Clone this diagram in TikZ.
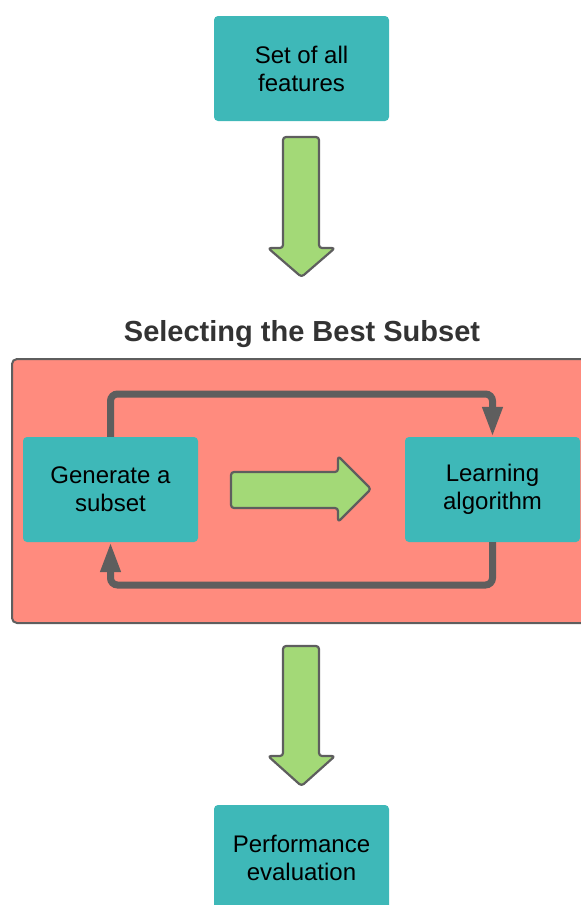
\documentclass[tikz,border=0pt]{standalone}
\usepackage{fontspec}
\setmainfont{Liberation Sans}
\usetikzlibrary{arrows.meta}
\definecolor{boxteal}{HTML}{3EB8B8}
\definecolor{panelred}{HTML}{FF8B7E}
\definecolor{arrowgreen}{HTML}{A3D977}
\definecolor{edgegray}{HTML}{5E5E5E}
\definecolor{titlegray}{HTML}{333333}
\tikzset{
  stagebox/.style={fill=boxteal, draw=none, rounded corners=4pt,
    minimum width=175pt, minimum height=105pt, inner sep=0pt,
    align=center, font=\fontsize{24}{28}\selectfont},
  blockarrow/.style={fill=arrowgreen, draw=edgegray, line width=2.2pt,
    rounded corners=3pt, line join=round},
  loopline/.style={draw=edgegray, line width=7pt, rounded corners=7pt,
    -{Triangle[length=30pt,width=19pt]}},
}
\begin{document}
\begin{tikzpicture}[x=1pt,y=-1pt]
\useasboundingbox (0,0) rectangle (581,905);
\clip (0,0) rectangle (581,905);

% panel holding the search loop
\draw[fill=panelred, draw=edgegray, line width=2pt, rounded corners=5pt]
  (12,359) rectangle (600,623);
\node[font=\bfseries\fontsize{29}{34}\selectfont, text=titlegray, anchor=base]
  (title) at (302,341) {Selecting the Best Subset};

% stages
\node[stagebox] (all)   at (301.5,68.5)  {Set of all\\features};
\node[stagebox] (gen)   at (110.5,489.5) {Generate a\\subset};
\node[stagebox] (learn) at (492.5,489.5) {Learning\\algorithm};
\node[stagebox] (perf)  at (301.5,857.5) {Performance\\evaluation};

% feedback loop between the two inner stages
\coordinate (looptop) at (0,394);
\coordinate (loopbot) at (0,585);
\draw[loopline] (gen.north) -- (gen.north |- looptop) -| (learn.north);
\draw[loopline] (learn.south) -- (learn.south |- loopbot) -| (gen.south);

% block arrows
\draw[blockarrow] (283,137) -- (319,137) -- (319,248) -- (335,248)
  -- (301.5,277) -- (268,248) -- (283,248) -- cycle;
\draw[blockarrow] (283,646) -- (319,646) -- (319,756) -- (335,756)
  -- (301.5,786) -- (268,756) -- (283,756) -- cycle;
\draw[blockarrow] (231,472) -- (338,472) -- (338,456) -- (371,489)
  -- (338,522) -- (338,508) -- (231,508) -- cycle;
\end{tikzpicture}
\end{document}
